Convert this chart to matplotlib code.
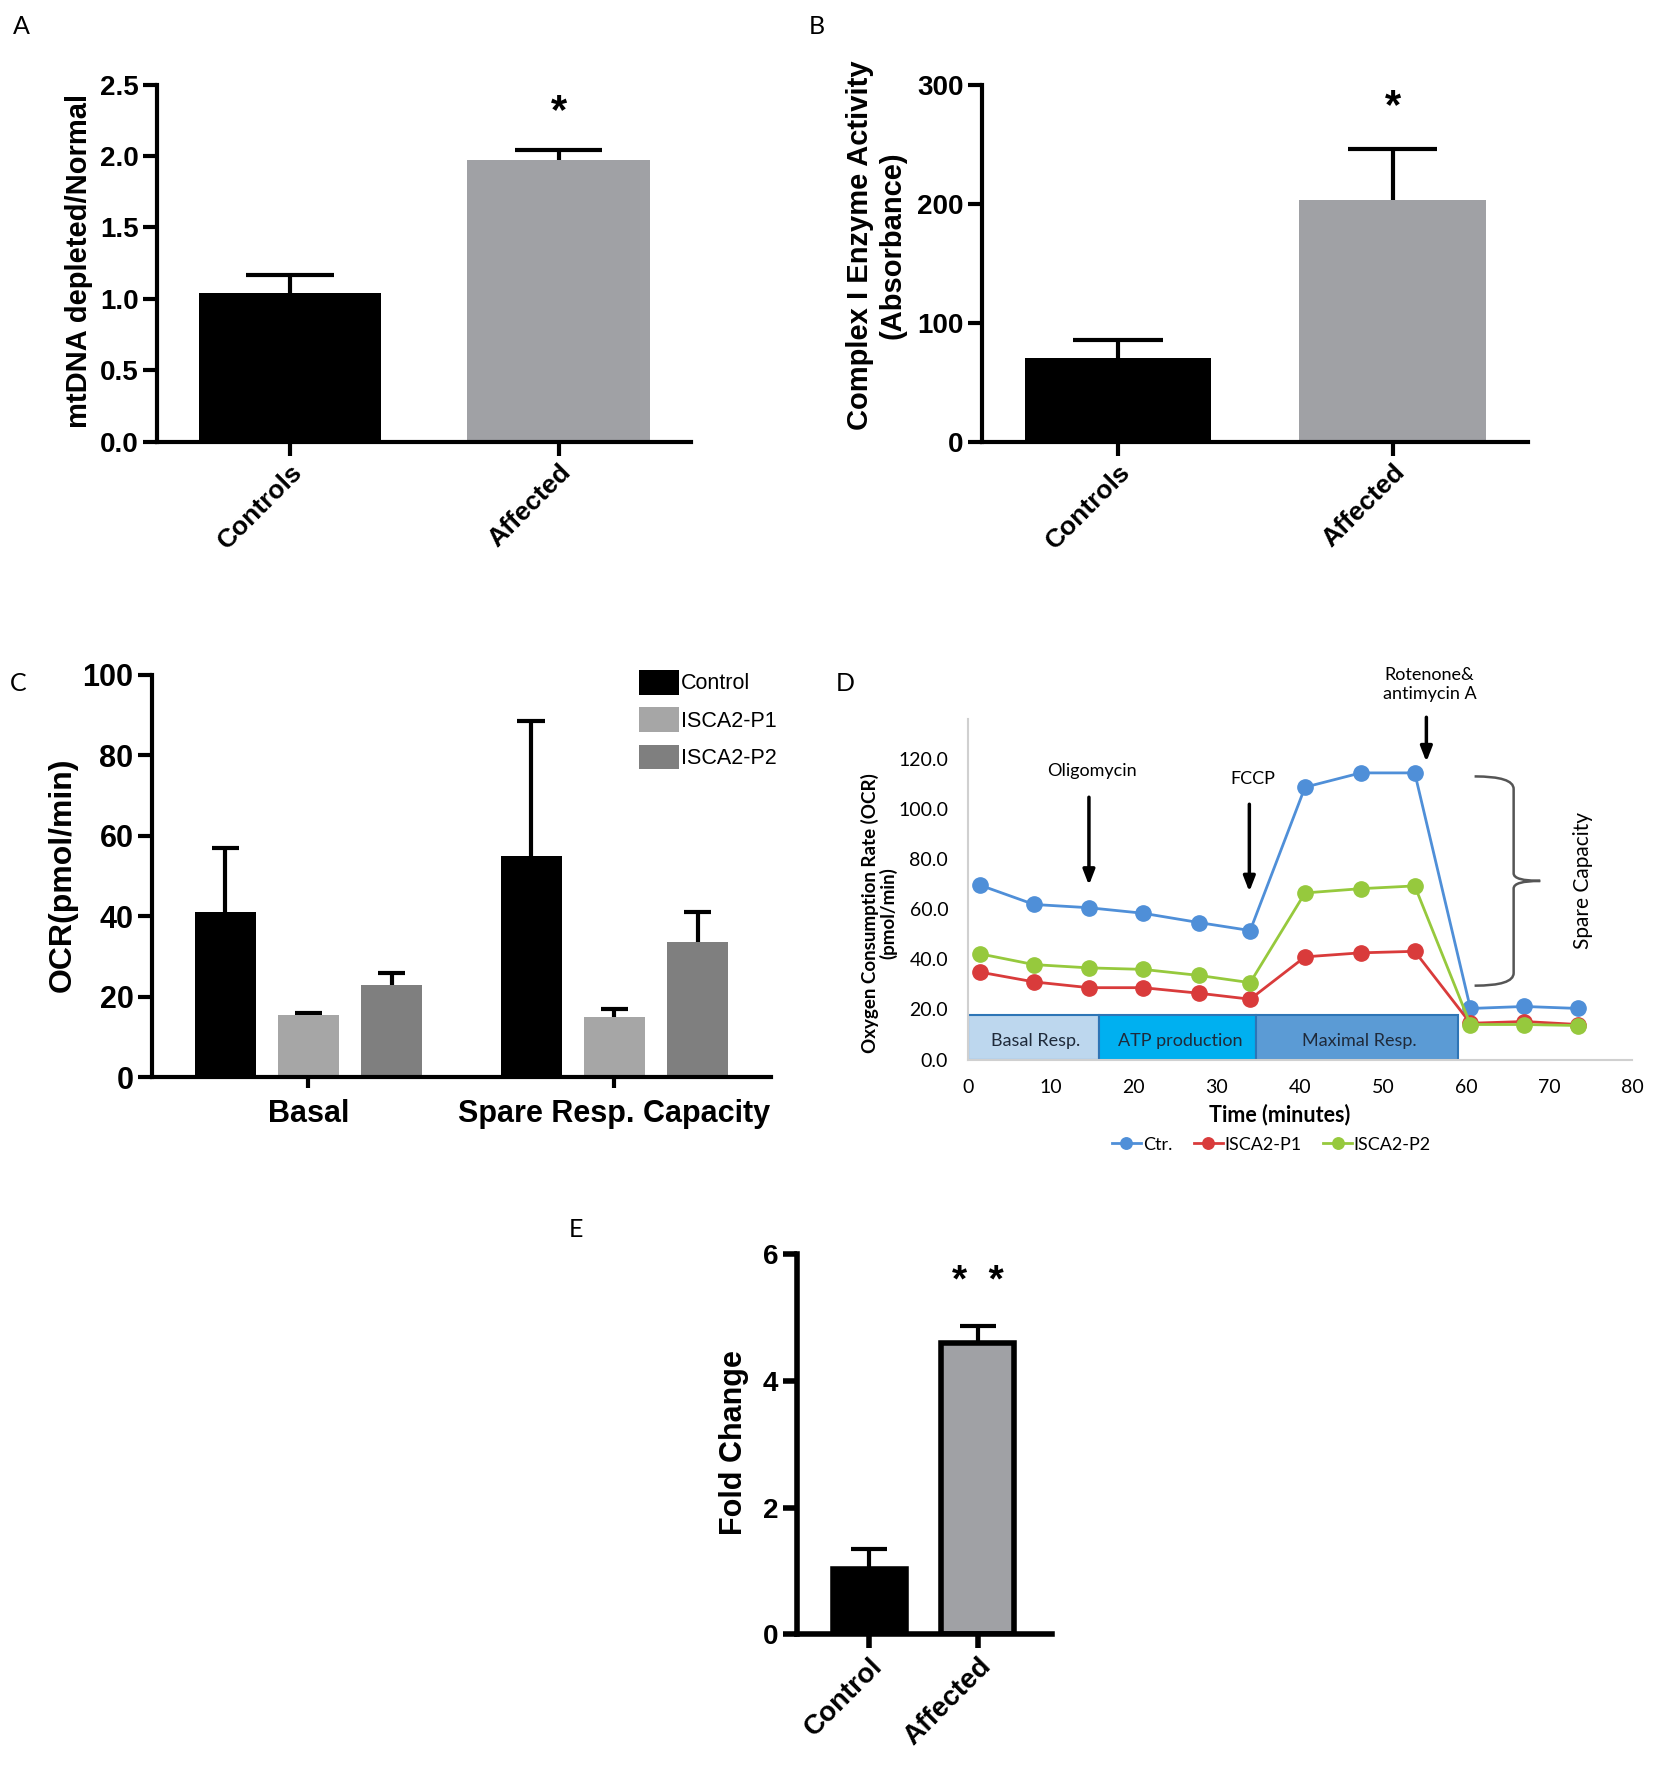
import numpy as np
import matplotlib
matplotlib.use("Agg")
import matplotlib.pyplot as plt
from matplotlib.patches import Rectangle, PathPatch
from matplotlib.path import Path

# panel A
a_cats = ["Controls", "Affected"]
a_vals = [1.04, 1.97]
a_err = [0.13, 0.07]
# panel B
b_cats = ["Controls", "Affected"]
b_vals = [70, 203]
b_err = [15, 43]
# panel C
c_groups = ["Basal", "Spare Resp. Capacity"]
c_series = ["Control", "ISCA2-P1", "ISCA2-P2"]
c_vals = [[41, 55], [15.5, 15], [23, 33.5]]
c_err = [[16, 33.5], [0.5, 2], [3, 7.5]]
# panel D
d_time = [1.5, 8.0, 14.6, 21.1, 27.8, 34.0, 40.6, 47.3, 53.8, 60.5, 67.0, 73.5]
d_ctr = [69.6, 61.9, 60.6, 58.4, 54.7, 51.5, 108.7, 114.4, 114.4, 20.4, 21.2, 20.4]
d_p1 = [34.9, 31.0, 28.7, 28.7, 26.5, 24.1, 41.0, 42.6, 43.2, 14.5, 15.2, 14.0]
d_p2 = [42.2, 37.9, 36.6, 36.0, 33.6, 30.7, 66.5, 68.2, 69.3, 14.0, 14.0, 13.6]
d_phases = ["Basal Resp.", "ATP production", "Maximal Resp."]
d_phase_start = [0, 15.8, 34.7]
d_phase_end = [15.8, 34.7, 59.0]
d_phase_height = 17.8
d_inject = ["Oligomycin", "FCCP", "Rotenone&\nantimycin A"]
d_inject_t = [14.6, 33.9, 55.2]
# panel E
e_cats = ["Control", "Affected"]
e_vals = [1.03, 4.6]
e_err = [0.32, 0.27]

BOLD = "Liberation Sans"
GRAY = "#a0a1a5"

fig = plt.figure(figsize=(16.54, 17.66), dpi=100)


def style_prism(ax, lw=3):
    for s in ["top", "right"]:
        ax.spines[s].set_visible(False)
    for s in ["left", "bottom"]:
        ax.spines[s].set_linewidth(lw)
    ax.tick_params(width=lw, length=10, direction="out")


def up_errors(ax, x, vals, errs, capw):
    # only the upper half of the error bar, like GraphPad
    dip = 0.02 * ax.get_ylim()[1]
    for xi, v, e in zip(x, vals, errs):
        ax.vlines(xi, v - dip, v + e, color="k", lw=3, zorder=1)
        ax.hlines(v + e, xi - capw / 2, xi + capw / 2, color="k", lw=3, zorder=1)


def bold_ticks(ax, size):
    for t in ax.get_yticklabels():
        t.set_family(BOLD)
        t.set_fontweight("bold")
        t.set_fontsize(size)


def simple_bars(ax, cats, vals, errs, width, tick_fs, label, label_fs):
    x = np.arange(len(cats))
    ax.bar(x, vals, width=width, color=["black", GRAY], zorder=2)
    up_errors(ax, x, vals, errs, width * 0.48)
    ax.set_xticks(x)
    ax.set_xticklabels(cats, rotation=45, ha="right", rotation_mode="anchor",
                       fontsize=19, fontweight="bold", family=BOLD)
    ax.set_ylabel(label, fontsize=label_fs, fontweight="bold", family=BOLD)
    bold_ticks(ax, tick_fs)
    return x


# ---- A ----
axA = fig.add_axes([0.095, 0.750, 0.323, 0.202])
axA.set_xlim(-0.494, 1.494)
axA.set_ylim(0, 2.5)
axA.set_yticks([0, 0.5, 1.0, 1.5, 2.0, 2.5])
axA.set_yticklabels(["0.0", "0.5", "1.0", "1.5", "2.0", "2.5"])
style_prism(axA)
simple_bars(axA, a_cats, a_vals, a_err, 0.68, 20, "mtDNA depleted/Normal", 21)
axA.yaxis.set_label_coords(-0.12, 0.505)
axA.text(1, 2.31, "*", ha="center", va="center", fontsize=30, fontweight="bold", family=BOLD)

# ---- B ----
axB = fig.add_axes([0.594, 0.750, 0.330, 0.202])
axB.set_xlim(-0.494, 1.494)
axB.set_ylim(0, 300)
axB.set_yticks([0, 100, 200, 300])
style_prism(axB)
simple_bars(axB, b_cats, b_vals, b_err, 0.68, 20,
            "Complex I Enzyme Activity\n(Absorbance)", 21)
axB.yaxis.set_label_coords(-0.14, 0.55)
axB.text(1, 281, "*", ha="center", va="center", fontsize=30, fontweight="bold", family=BOLD)

# ---- C ----
axC = fig.add_axes([0.092, 0.390, 0.374, 0.228])
axC.set_xlim(-0.511, 1.511)
axC.set_ylim(0, 100)
style_prism(axC)
c_colors = ["black", "#a6a6a6", "#7f7f7f"]
gx = np.arange(len(c_groups))
for i, (name, vals, errs) in enumerate(zip(c_series, c_vals, c_err)):
    xs = gx + (i - 1) * 0.272
    axC.bar(xs, vals, width=0.2, color=c_colors[i], label=name, zorder=2)
    up_errors(axC, xs, vals, errs, 0.09)
axC.set_xticks(gx)
axC.set_xticklabels(c_groups, fontsize=22, fontweight="bold", family=BOLD)
axC.tick_params(axis="x", length=8, pad=8)
axC.set_yticks([0, 20, 40, 60, 80, 100])
bold_ticks(axC, 22)
axC.set_ylabel("OCR(pmol/min)", fontsize=23, fontweight="bold", family=BOLD)
axC.yaxis.set_label_coords(-0.12, 0.504)
axC.legend(loc="upper left", bbox_to_anchor=(0.755, 1.06), frameon=False,
           handlelength=1.9, handleheight=1.4, handletextpad=0.05,
           labelspacing=0.58, prop={"family": BOLD, "size": 15.5})

# ---- D ----
axD = fig.add_axes([0.585, 0.400, 0.402, 0.193])
axD.set_xlim(0, 80)
axD.set_ylim(0, 136)
for s in ["top", "right"]:
    axD.spines[s].set_visible(False)
for s in ["left", "bottom"]:
    axD.spines[s].set_color("#d0d0d0")
    axD.spines[s].set_linewidth(1.5)
axD.tick_params(length=0, labelsize=14, pad=14)
axD.set_xticks(range(0, 81, 10))
axD.set_yticks(range(0, 121, 20))
axD.set_yticklabels(["%.1f" % v for v in range(0, 121, 20)])
for t in axD.get_xticklabels() + axD.get_yticklabels():
    t.set_family("Lato")

phase_cols = ["#bdd7ee", "#00b0f0", "#5b9bd5"]
for name, x0, x1, col in zip(d_phases, d_phase_start, d_phase_end, phase_cols):
    axD.add_patch(Rectangle((x0, 0), x1 - x0, d_phase_height, facecolor=col,
                            edgecolor="#2e75b6", lw=1.5, zorder=1))
    axD.text((x0 + x1) / 2 + 0.3, d_phase_height * 0.42, name, ha="center", va="center",
             fontsize=13, family="Lato", color="#1f2a3a", zorder=2)

for ys, col, lab in [(d_ctr, "#4f8fd8", "Ctr."), (d_p1, "#d93b3b", "ISCA2-P1"),
                     (d_p2, "#96c93d", "ISCA2-P2")]:
    axD.plot(d_time, ys, "-o", color=col, lw=2, ms=11, label=lab, zorder=3)

arrow_top = [105.8, 103.0, 137.7]
arrow_tip = [68.5, 65.9, 117.7]
label_y = [112.0, 108.8, 142.5]
for name, t, y0, y1, ly in zip(d_inject, d_inject_t, arrow_top, arrow_tip, label_y):
    axD.annotate("", xy=(t, y1), xytext=(t, y0), annotation_clip=False,
                 arrowprops=dict(arrowstyle="-|>,head_width=0.35,head_length=0.9",
                                 color="black", lw=2.5))
    axD.text(t + 0.4, ly, name, ha="center", va="bottom", fontsize=13,
             family="Lato", clip_on=False, linespacing=1.3)

# brace for spare capacity
x0, xs, xp = 61.0, 65.7, 68.9
yt, ym, yb = 113.0, 71.3, 29.5
verts = [(x0, yt), (xs, yt), (xs, yt - 5), (xs, ym + 3), (xs, ym), (xp, ym),
         (xs, ym), (xs, ym - 3), (xs, yb + 5), (xs, yb), (x0, yb)]
codes = [Path.MOVETO, Path.CURVE3, Path.CURVE3, Path.LINETO, Path.CURVE3, Path.CURVE3,
         Path.CURVE3, Path.CURVE3, Path.LINETO, Path.CURVE3, Path.CURVE3]
axD.add_patch(PathPatch(Path(verts, codes), facecolor="none", edgecolor="#555555", lw=1.8))
axD.text(74.0, 71.3, "Spare Capacity", rotation=90, ha="center", va="center",
         fontsize=15, family="Lato")

axD.set_xlabel("Time (minutes)", fontsize=15.5, fontweight="bold", family="Lato")
axD.xaxis.set_label_coords(0.469, -0.13)
axD.set_ylabel("Oxygen Consumption Rate (OCR)\n(pmol/min)", fontsize=13.5,
               fontweight="bold", family="Lato", linespacing=1.0)
axD.yaxis.set_label_coords(-0.106, 0.43)
axD.legend(loc="center", bbox_to_anchor=(0.457, -0.25), ncol=3, frameon=False,
           handlelength=1.6, handletextpad=0.1, columnspacing=1.2, markerscale=0.75,
           prop={"family": "Lato", "size": 13})

# ---- E ----
axE = fig.add_axes([0.482, 0.0745, 0.154, 0.2155])
axE.set_xlim(-0.66, 1.68)
axE.set_ylim(0, 6)
style_prism(axE, lw=4)
ex = np.arange(len(e_cats))
axE.bar(ex, e_vals, width=0.67, color=["black", GRAY], edgecolor="black", lw=4, zorder=2)
up_errors(axE, ex, e_vals, e_err, 0.33)
axE.set_xticks(ex)
axE.set_xticklabels(e_cats, rotation=45, ha="right", rotation_mode="anchor",
                    fontsize=20, fontweight="bold", family=BOLD)
axE.set_yticks([0, 2, 4, 6])
bold_ticks(axE, 20)
axE.set_ylabel("Fold Change", fontsize=22, fontweight="bold", family=BOLD)
axE.yaxis.set_label_coords(-0.19, 0.503)
axE.text(1, 5.56, "*  *", ha="center", va="center", fontsize=28, fontweight="bold", family=BOLD)

# panel letters
for lab, x, y in [("A", 0.008, 0.985), ("B", 0.489, 0.985), ("C", 0.006, 0.613),
                  ("D", 0.505, 0.613), ("E", 0.344, 0.304)]:
    fig.text(x, y, lab, fontsize=18, family="Lato", ha="left", va="center")

fig.savefig("out.png", dpi=100)
